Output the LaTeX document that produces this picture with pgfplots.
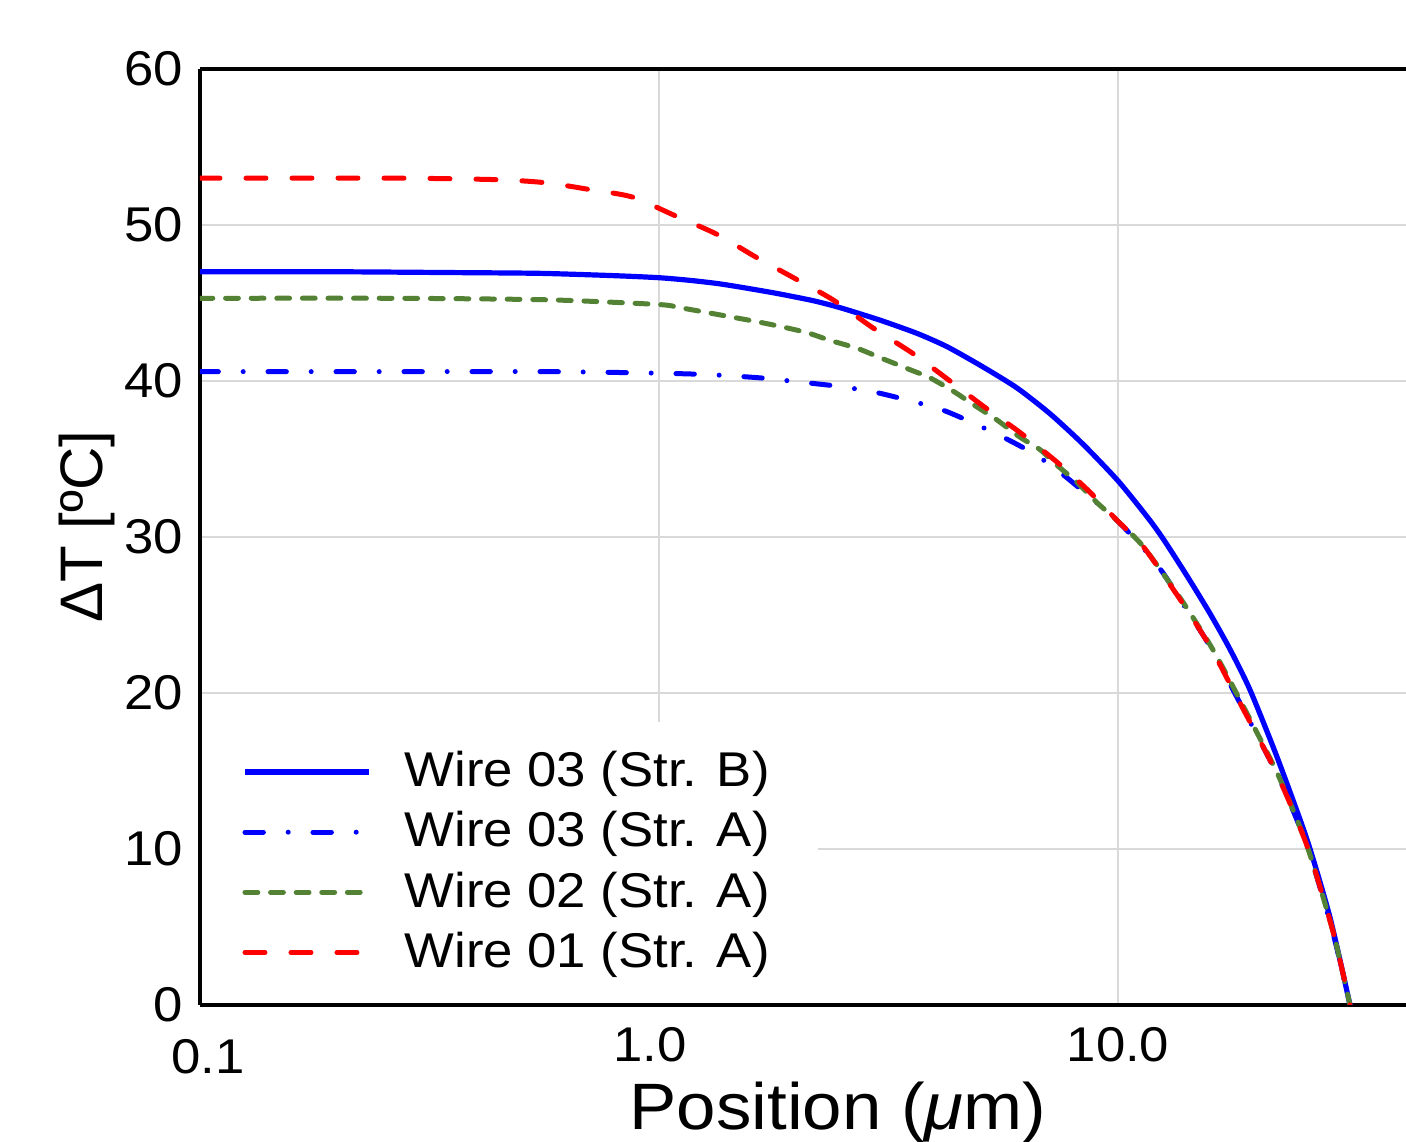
\documentclass[border=0pt]{standalone}
\usepackage{fontspec}
\setmainfont[FakeStretch=1.08]{Liberation Sans}
\newfontfamily\ylabfont{Liberation Sans}
\usepackage{pgfplots}
\pgfplotsset{compat=1.18}
\definecolor{wgreen}{RGB}{84,130,53}
\definecolor{gridgray}{RGB}{217,217,217}

\begin{document}
\begin{tikzpicture}
\begin{axis}[
  scale only axis, width=301.5pt, height=234pt,
  xmode=log, log basis x=10,
  xmin=0.1, xmax=42.4, ymin=0, ymax=60,
  xtick={1,10}, xticklabels={\hspace*{-4.5pt}1.0,10.0},
  extra x ticks={0.1}, extra x tick labels={\hspace*{4pt}0.1},
  extra x tick style={major grid style={draw=none}, xticklabel style={yshift=-3pt}},
  ytick={0,10,20,30,40,50,60},
  minor xtick={},
  grid=major, major grid style={gridgray, line width=0.6pt},
  major tick length=0pt, minor tick length=0pt,
  axis x line*=bottom, axis y line*=left,
  axis line style={black, line width=0.8pt},
  /pgf/number format/assume math mode=true,
  tick label style={font=\fontsize{12.2}{14}\selectfont},
  xticklabel style={yshift=-2pt},
  yticklabel style={xshift=-0.75pt},
  xlabel={Position (\textit{μ}m)},
  xlabel style={font=\fontsize{16.4}{18}\selectfont, at={(axis description cs:0.529,0)}, anchor=base, yshift=-31.25pt},
  ylabel={ΔT [ºC]},
  ylabel style={font=\ylabfont\fontsize{15}{17}\selectfont, at={([xshift=-24.25pt]axis description cs:0,0.511)}, anchor=base},
  legend cell align=left,
  legend image code/.code={\draw[#1] (0pt,0pt) -- (31pt,0pt);},
  legend style={at={(axis description cs:0,0)}, anchor=south west, xshift=0.4pt, yshift=0.4pt,
    draw=none, fill=white, font=\fontsize{12.2}{14}\selectfont,
    inner xsep=10pt, inner ysep=5pt,
    nodes={inner xsep=2pt, inner ysep=2.35pt},
    /tikz/every odd column/.append style={column sep=6.25pt}},
]
\addplot[blue, line width=1.3pt, smooth, tension=0.4] coordinates {
(0.1,47.0) (0.2,47.0) (0.35,46.95) (0.55,46.9) (0.8,46.75) (1.0,46.62)
(1.168,46.45) (1.338,46.25) (1.502,46.02) (1.8,45.62) (2.165,45.15) (2.48,44.7)
(3.03,43.9) (3.65,43.05) (4.241,42.2) (5.08,40.9) (6.026,39.55) (7.111,37.9)
(8.39,35.95) (10.0,33.6) (11.57,31.3) (12.53,29.9) (14.14,27.5) (15.86,25.1)
(17.54,22.8) (19.39,20.2) (22.2,15.9) (25.81,10.6) (28.97,5.6) (32.02,0.0)
};
\addlegendentry{Wire 03 (Str. B)}
\addplot[blue, line width=1.25pt, line cap=round, dash pattern=on 4.6pt off 6.2pt on 0pt off 6.2pt, smooth, tension=0.4] coordinates {
(0.1,40.6) (0.273,40.6) (0.579,40.6) (1.0,40.5) (1.3,40.4) (1.66,40.2)
(1.998,39.95) (2.394,39.7) (2.882,39.35) (3.401,38.85) (4.095,38.2) (4.76,37.4)
(5.617,36.4) (6.594,35.3) (7.589,34.0) (8.82,32.4) (10.0,31.0) (11.34,29.3)
(12.53,27.7) (13.65,26.0) (15.86,23.0) (17.81,20.2) (22.2,14.8) (25.81,10.2)
(29.41,4.6) (32.02,0.0)
};
\addlegendentry{Wire 03 (Str. A)}
\addplot[wgreen, line width=1.25pt, line cap=round, dash pattern=on 3.2pt off 3.2pt, smooth, tension=0.4] coordinates {
(0.1,45.3) (0.273,45.3) (0.579,45.2) (1.0,44.9) (1.111,44.7) (1.379,44.2)
(1.635,43.8) (1.835,43.5) (2.101,43.1) (2.359,42.6) (2.7,42.1) (3.03,41.5)
(3.47,40.8) (3.895,40.2) (4.4,39.3) (4.832,38.5) (5.45,37.5) (6.115,36.4)
(6.762,35.6) (7.364,34.6) (8.141,33.5) (9.0,32.2) (10.0,31.0) (11.34,29.4)
(13.65,26.1) (15.86,23.1) (17.81,20.4) (22.2,14.9) (25.81,10.2) (29.41,4.7)
(32.02,0.0)
};
\addlegendentry{Wire 02 (Str. A)}
\addplot[red, line width=1.25pt, line cap=round, dash pattern=on 5pt off 6.5pt, smooth, tension=0.4] coordinates {
(0.1,53.0) (0.273,53.0) (0.45,52.9) (0.57,52.7) (0.697,52.3) (0.873,51.8)
(1.083,50.6) (1.338,49.4) (1.635,47.9) (1.998,46.5) (2.394,45.2) (2.926,43.4)
(3.558,41.8) (4.305,40.0) (5.08,38.4) (6.115,36.7) (7.364,34.8) (8.6,33.0)
(10.0,31.0) (11.34,29.4) (13.65,26.0) (15.86,23.0) (17.81,20.2) (22.2,14.8)
(25.81,10.2) (29.41,4.7) (32.02,0.0)
};
\addlegendentry{Wire 01 (Str. A)}
\end{axis}
\draw[black, line width=0.8pt] (current axis.north west) -- (current axis.north east);
\pgfresetboundingbox
\path[use as bounding box] ([xshift=-50pt,yshift=-34.25pt]current axis.south west) rectangle ([yshift=17.25pt]current axis.north east);
\end{tikzpicture}
\end{document}
